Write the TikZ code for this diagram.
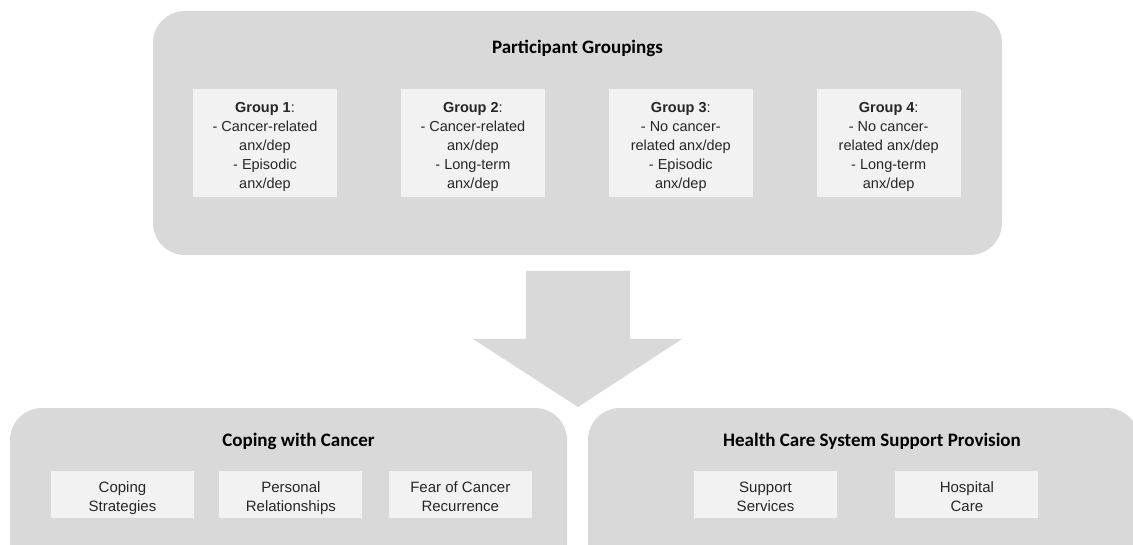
\documentclass[tikz,border=0pt]{standalone}
\usepackage{fontspec}
\setmainfont{Liberation Sans}
\newfontfamily\headfont{Carlito}
\usetikzlibrary{positioning}

\definecolor{panelgray}{HTML}{D9D9D9}
\definecolor{itemgray}{HTML}{F2F2F2}
\definecolor{inkgray}{HTML}{262626}

% taller first line, lowers the text in its box a little
\newcommand\lowstrut{\rule{0pt}{20.5pt}}

\begin{document}
\begin{tikzpicture}[x=1pt,y=-1pt,
	panel/.style={fill=panelgray,rounded corners=32pt},
	heading/.style={font=\headfont\bfseries\fontsize{19}{23}\selectfont,text=black},
	groupbox/.style={fill=itemgray,minimum width=144pt,minimum height=108pt,inner sep=0pt,
		align=center,text=inkgray,font=\fontsize{14.5}{19}\selectfont},
	themebox/.style={fill=itemgray,minimum width=143pt,minimum height=47pt,inner sep=0pt,
		align=center,text=inkgray,font=\fontsize{15}{19}\selectfont}]

	\useasboundingbox (0,0) rectangle (1133,545);
	\clip (0,0) rectangle (1133,545);

	% Top panel: participant groupings
	\fill[panel] (153,11) rectangle (1002,255);
	\node[heading] (groupings) at (577.5,48) {Participant Groupings};
	\node[groupbox] (g1) at (265,143) {\lowstrut\textbf{Group 1}:\\- Cancer-related\\anx/dep\\- Episodic\\anx/dep\strut};
	\node[groupbox,right=63.5pt of g1] (g2) {\lowstrut\textbf{Group 2}:\\- Cancer-related\\anx/dep\\- Long-term\\anx/dep\strut};
	\node[groupbox,right=63.5pt of g2] (g3) {\lowstrut\textbf{Group 3}:\\- No cancer-\\related anx/dep\\- Episodic\\anx/dep\strut};
	\node[groupbox,right=63.5pt of g3] (g4) {\lowstrut\textbf{Group 4}:\\- No cancer-\\related anx/dep\\- Long-term\\anx/dep\strut};

	% Block arrow down
	\fill[panelgray] (526,271) -- (630,271) -- (630,339) -- (682,339) -- (578,407)
		-- (473,339) -- (526,339) -- cycle;

	% Bottom panels: themes
	\fill[panel] (10,408) rectangle (567,580);
	\fill[panel] (588,408) rectangle (1139,580);

	\node[heading] (coping) at (298.5,441) {Coping with Cancer};
	\node[themebox] (strategies) at (122.5,494.5) {\lowstrut Coping\\Strategies\strut};
	\node[themebox,right=25pt of strategies] (relations) {\lowstrut Personal\\Relationships\strut};
	\node[themebox,right=26pt of relations] (fear) {\lowstrut Fear of Cancer\\Recurrence\strut};

	\node[heading] (system) at (872,441) {Health Care System Support Provision};
	\node[themebox] (services) at (765.5,494.5) {\lowstrut Support\\Services\strut};
	\node[themebox,right=58pt of services] (hospital) {\lowstrut Hospital\\Care\strut};

\end{tikzpicture}
\end{document}
